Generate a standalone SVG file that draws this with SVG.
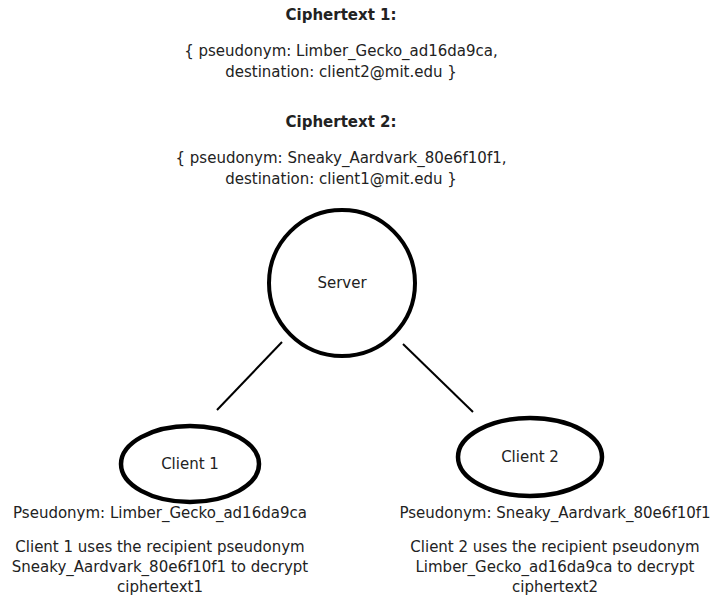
<svg xmlns="http://www.w3.org/2000/svg" width="712" height="597" viewBox="0 0 712 597">
<style>
text{font-family:"DejaVu Sans",Verdana,sans-serif;font-size:15px;fill:#222;text-anchor:middle}
.b{font-weight:bold}
.node{fill:#fff;stroke:#000;stroke-width:4}
.cl{stroke-width:4.5}
.edge{stroke:#000;stroke-width:2;fill:none}
</style>
<rect width="712" height="597" fill="#fff"/>
<g id="header">
<text class="b" x="341" y="20">Ciphertext 1:</text>
<text x="341" y="56">{ pseudonym: Limber_Gecko_ad16da9ca,</text>
<text x="341" y="77">destination: client2@mit.edu }</text>
<text class="b" x="341" y="127">Ciphertext 2:</text>
<text x="341" y="163">{ pseudonym: Sneaky_Aardvark_80e6f10f1,</text>
<text x="341" y="184">destination: client1@mit.edu }</text>
</g>
<g id="connectors">
<line class="edge" x1="217" y1="410" x2="282" y2="342"/>
<line class="edge" x1="403" y1="344" x2="473" y2="412"/>
</g>
<g id="server">
<circle class="node" cx="342" cy="283" r="73"/>
<text x="342" y="288">Server</text>
</g>
<g id="client1">
<ellipse class="node cl" cx="190" cy="464" rx="69" ry="38"/>
<text x="190" y="469">Client 1</text>
<text x="160" y="518">Pseudonym: Limber_Gecko_ad16da9ca</text>
<text x="160" y="552">Client 1 uses the recipient pseudonym</text>
<text x="160" y="572">Sneaky_Aardvark_80e6f10f1 to decrypt</text>
<text x="160" y="592">ciphertext1</text>
</g>
<g id="client2">
<ellipse class="node cl" cx="530" cy="457" rx="72" ry="39"/>
<text x="530" y="462">Client 2</text>
<text x="555" y="518">Pseudonym: Sneaky_Aardvark_80e6f10f1</text>
<text x="555" y="552">Client 2 uses the recipient pseudonym</text>
<text x="555" y="572">Limber_Gecko_ad16da9ca to decrypt</text>
<text x="555" y="592">ciphertext2</text>
</g>
</svg>
